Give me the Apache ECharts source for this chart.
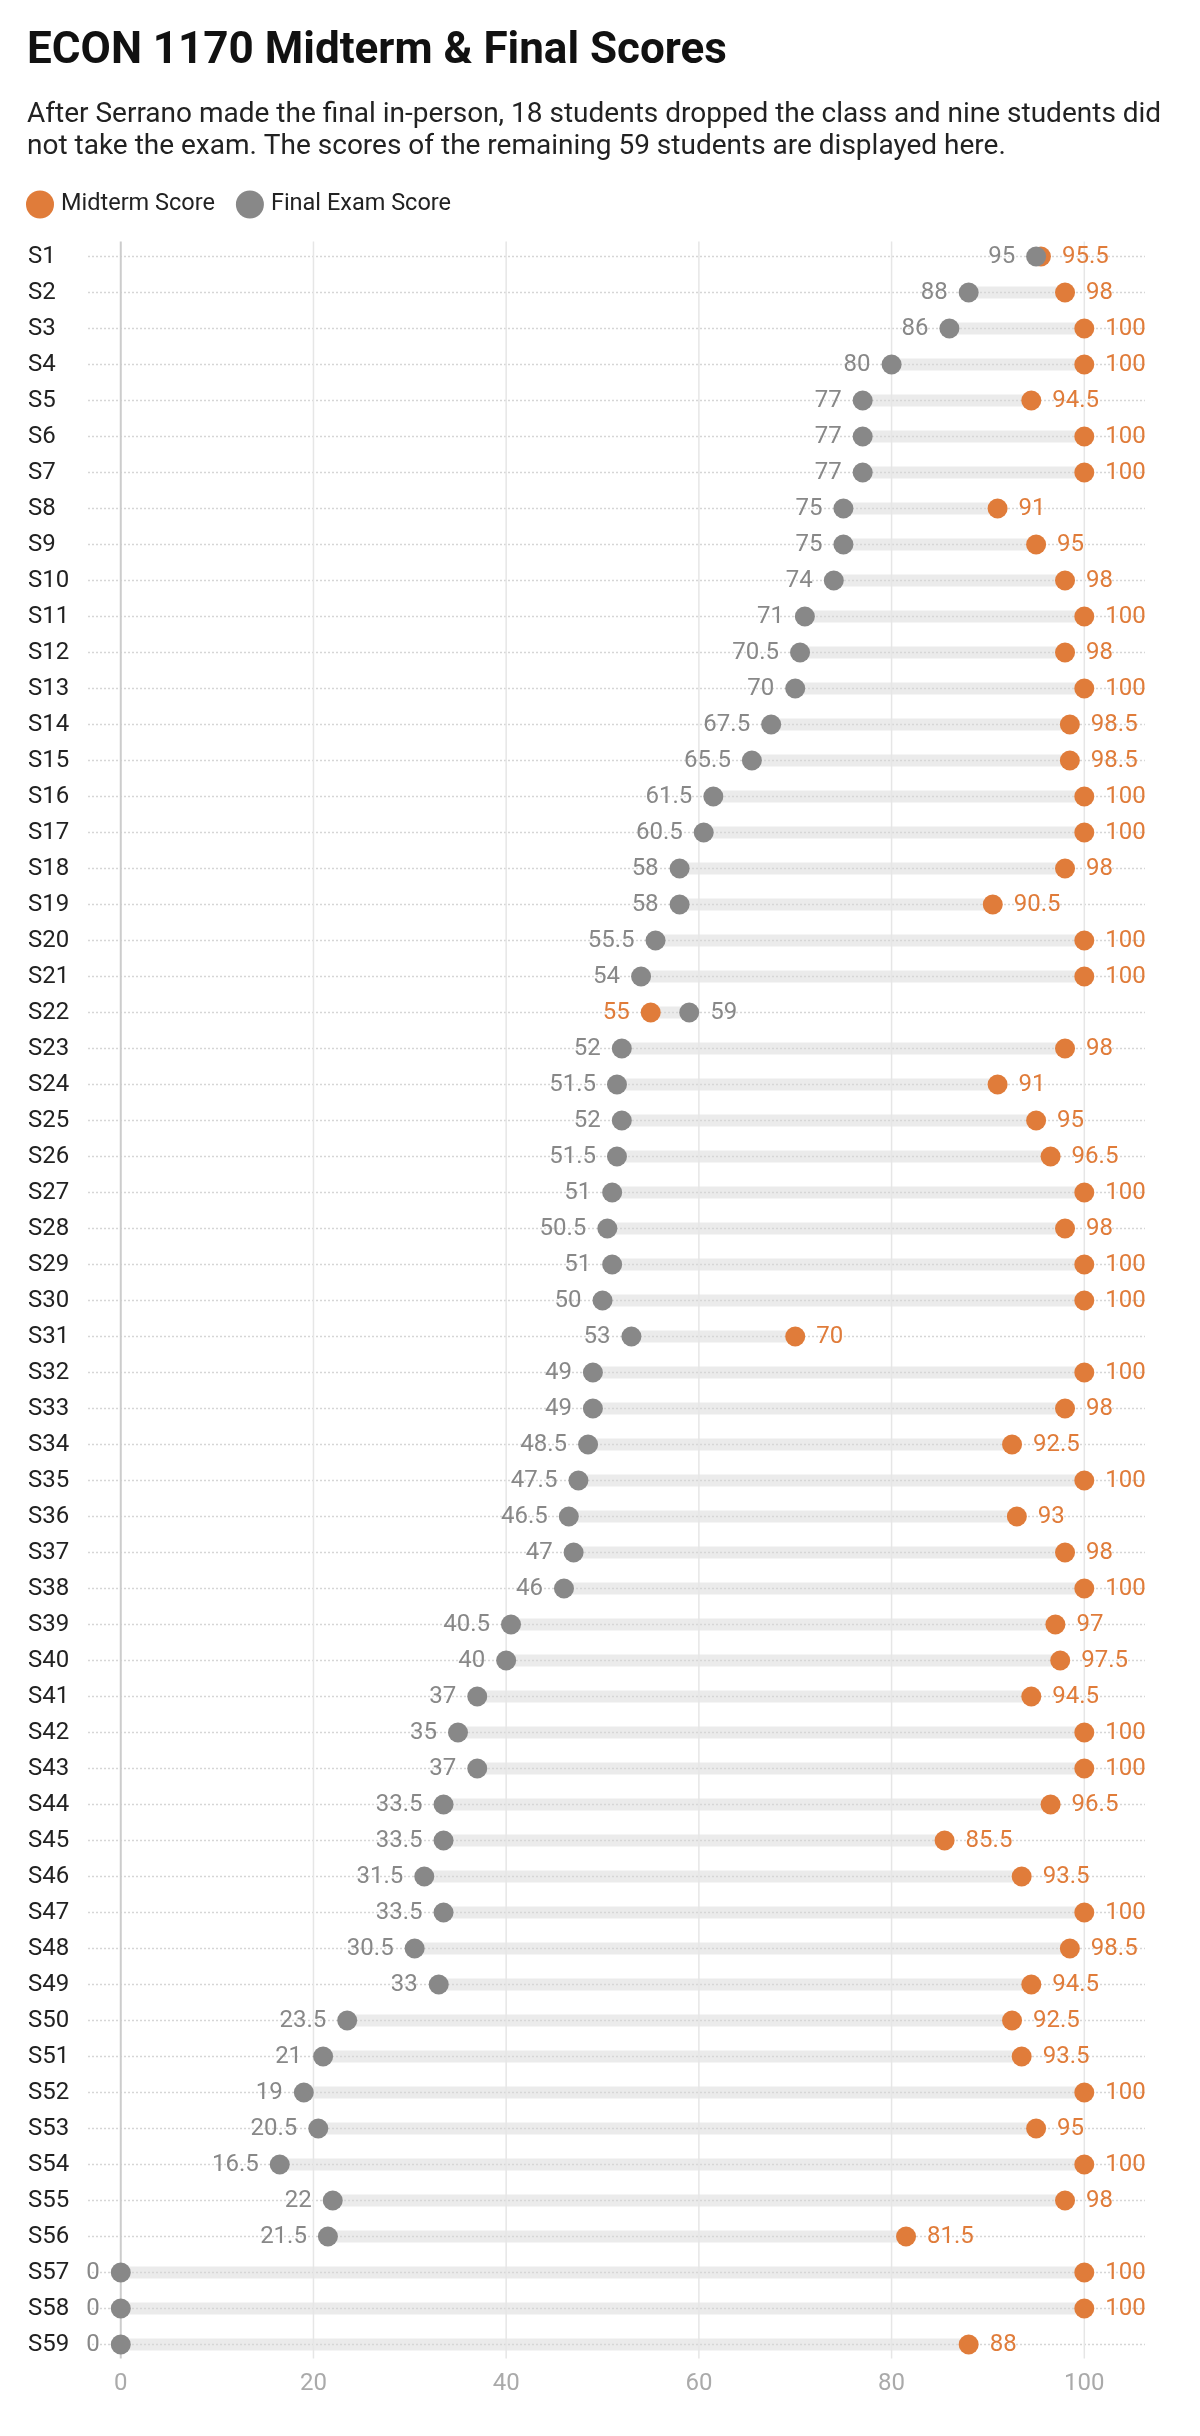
<!DOCTYPE html>
<html>
<head>
<meta charset="utf-8">
<title>ECON 1170 Midterm & Final Scores</title>
<script src="https://cdn.jsdelivr.net/npm/echarts@6/dist/echarts.min.js"></script>
<style>
  html, body { margin: 0; padding: 0; background: #fff; }
  #chart { width: 1200px; height: 2436px; }
</style>
</head>
<body>
<div id="chart"></div>
<script>
// students, top to bottom
var students = [];
for (var n = 1; n <= 59; n++) students.push('S' + n);

var finalScores = [
  95, 88, 86, 80, 77, 77, 77, 75, 75, 74,
  71, 70.5, 70, 67.5, 65.5, 61.5, 60.5, 58, 58, 55.5,
  54, 59, 52, 51.5, 52, 51.5, 51, 50.5, 51, 50,
  53, 49, 49, 48.5, 47.5, 46.5, 47, 46, 40.5, 40,
  37, 35, 37, 33.5, 33.5, 31.5, 33.5, 30.5, 33, 23.5,
  21, 19, 20.5, 16.5, 22, 21.5, 0, 0, 0
];

var midtermScores = [
  95.5, 98, 100, 100, 94.5, 100, 100, 91, 95, 98,
  100, 98, 100, 98.5, 98.5, 100, 100, 98, 90.5, 100,
  100, 55, 98, 91, 95, 96.5, 100, 98, 100, 100,
  70, 100, 98, 92.5, 100, 93, 98, 100, 97, 97.5,
  94.5, 100, 100, 96.5, 85.5, 93.5, 100, 98.5, 94.5, 92.5,
  93.5, 100, 95, 100, 98, 81.5, 100, 100, 88
];

var xTicks = [0, 20, 40, 60, 80, 100];

var ORANGE = '#E07C3A';
var GRAY = '#888888';
var FONT = 'Roboto, "Noto Sans", sans-serif';

var myChart = echarts.init(document.getElementById('chart'), null, { renderer: 'canvas' });

// label goes on the outer side of each pair
function pointData(own, other, color) {
  return own.map(function (v, i) {
    var outerRight = v > other[i] || (v === other[i] && color === ORANGE);
    return {
      value: [v, students[i]],
      label: { position: outerRight ? 'right' : 'left' }
    };
  });
}

var rangeData = students.map(function (s, i) {
  return [finalScores[i], midtermScores[i], i];
});

var option = {
  backgroundColor: '#fff',
  animation: false,
  textStyle: { fontFamily: FONT },
  title: [
    {
      text: 'ECON 1170 Midterm & Final Scores',
      left: 27,
      top: 26,
      padding: 0,
      textStyle: { fontFamily: FONT, fontSize: 44, fontWeight: 'bold', color: '#111', lineHeight: 52 }
    },
    {
      text: 'After Serrano made the final in-person, 18 students dropped the class and nine students did\nnot take the exam. The scores of the remaining 59 students are displayed here.',
      left: 27,
      top: 98.5,
      padding: 0,
      textStyle: { fontFamily: FONT, fontSize: 28, fontWeight: 'normal', color: '#222', lineHeight: 32 }
    }
  ],
  legend: {
    data: ['Midterm Score', 'Final Exam Score'],
    icon: 'circle',
    left: 26,
    top: 190.5,
    padding: 0,
    itemWidth: 28,
    itemHeight: 28,
    itemGap: 21,
    textStyle: { fontFamily: FONT, fontSize: 23.5, color: '#222', padding: [0, 0, 0, 2] }
  },
  grid: {
    left: 88,
    right: 55,
    top: 238.5,
    bottom: 73.5,
    containLabel: false
  },
  xAxis: {
    type: 'value',
    min: -3.4,
    max: 106.3,
    axisLine: { show: false },
    axisTick: { show: false },
    splitLine: { show: false },
    axisLabel: {
      customValues: xTicks,
      color: '#aaaaaa',
      fontFamily: FONT,
      fontSize: 24,
      margin: 9
    }
  },
  yAxis: {
    type: 'category',
    data: students,
    inverse: true,
    axisLine: { show: false },
    axisTick: { show: false },
    splitLine: { show: false },
    axisLabel: {
      align: 'left',
      margin: 60,
      color: '#222',
      fontFamily: FONT,
      fontSize: 24
    }
  },
  series: [
    {
      name: 'range',
      type: 'custom',
      silent: true,
      z: 1,
      dimensions: ['final', 'midterm', 'row'],
      encode: { x: [0, 1], y: 2 },
      data: rangeData,
      renderItem: function (params, api) {
        var row = api.value(2);
        var a = api.coord([api.value(0), row]);
        var b = api.coord([api.value(1), row]);
        var cs = params.coordSys;
        var x0 = Math.min(a[0], b[0]);
        var x1 = Math.max(a[0], b[0]);
        var children = [
          {
            type: 'rect',
            shape: { x: x0, y: a[1] - 6, width: x1 - x0, height: 12 },
            style: { fill: '#ebebeb' }
          },
          {
            type: 'line',
            shape: { x1: cs.x, y1: a[1], x2: cs.x + cs.width, y2: a[1] },
            style: { stroke: '#d6d6d6', lineWidth: 1.5, lineDash: [2, 2] }
          }
        ];
        // vertical gridlines, drawn once from the axis ticks
        if (params.dataIndex === 0) {
          xTicks.forEach(function (v) {
            var px = api.coord([v, 0])[0];
            children.push({
              type: 'line',
              z2: 5,
              shape: { x1: px, y1: cs.y + 3, x2: px, y2: cs.y + cs.height - 4 },
              style: v === 0
                ? { stroke: '#cccccc', lineWidth: 2 }
                : { stroke: '#e6e6e6', lineWidth: 1.5 }
            });
          });
        }
        return { type: 'group', children: children };
      }
    },
    {
      name: 'Midterm Score',
      type: 'scatter',
      z: 3,
      symbolSize: 20,
      itemStyle: { color: ORANGE, opacity: 1 },
      label: {
        show: true,
        distance: 11,
        color: ORANGE,
        fontFamily: FONT,
        fontSize: 24,
        formatter: function (p) { return p.value[0]; }
      },
      data: pointData(midtermScores, finalScores, ORANGE)
    },
    {
      name: 'Final Exam Score',
      type: 'scatter',
      z: 4,
      symbolSize: 20,
      itemStyle: { color: GRAY, opacity: 1 },
      label: {
        show: true,
        distance: 11,
        color: GRAY,
        fontFamily: FONT,
        fontSize: 24,
        formatter: function (p) { return p.value[0]; }
      },
      data: pointData(finalScores, midtermScores, GRAY)
    }
  ]
};

myChart.setOption(option);
</script>
</body>
</html>
